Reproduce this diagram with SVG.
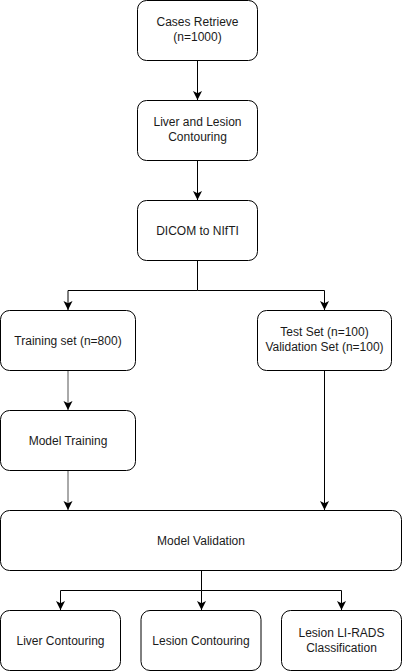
<svg xmlns="http://www.w3.org/2000/svg" width="402" height="671" viewBox="0 0 402 671">
<defs>
<marker id="arr" markerUnits="userSpaceOnUse" markerWidth="10" markerHeight="10" refX="9" refY="4.5" orient="auto">
<path d="M0,0 L9,4.5 L0,9 L2.2,4.5 z" fill="#000"/>
</marker>
<marker id="arrg" markerUnits="userSpaceOnUse" markerWidth="10" markerHeight="10" refX="9" refY="4.5" orient="auto">
<path d="M0,0 L9,4.5 L0,9 L2.2,4.5 z" fill="#000"/>
</marker>
</defs>
<style>
.box{fill:#fff;stroke:#000;stroke-width:1}
.t{font-family:"Liberation Sans",Arial,sans-serif;font-size:12px;fill:#1a1a1a;text-anchor:middle}
.c{fill:none;stroke:#000;stroke-width:1}
.g{fill:none;stroke:#555;stroke-width:1}
</style>
<rect width="402" height="671" fill="#fff"/>
<g id="connectors">
<path class="c" d="M197.5,60.5 V100" marker-end="url(#arr)"/>
<path class="c" d="M197.5,160.5 V200" marker-end="url(#arr)"/>
<path class="c" d="M197.5,260.5 V290.5 H68 V310" marker-end="url(#arr)"/>
<path class="c" d="M197.5,290.5 H324.5 V310" marker-end="url(#arr)"/>
<path class="g" d="M68,370.5 V410" marker-end="url(#arrg)"/>
<path class="g" d="M68,470.5 V510" marker-end="url(#arrg)"/>
<path class="c" d="M324.5,370.5 V510" marker-end="url(#arr)"/>
<path class="c" d="M201.5,570.5 V590.5 H60.5 V610" marker-end="url(#arr)"/>
<path class="c" d="M201.5,590.5 V610" marker-end="url(#arr)"/>
<path class="c" d="M201.5,590.5 H341.5 V610" marker-end="url(#arr)"/>
</g>
<g id="cases">
<rect class="box" x="137.5" y="0.5" width="120" height="60" rx="9"/>
<text class="t" x="197.5" y="26">Cases Retrieve</text>
<text class="t" x="197.5" y="41">(n=1000)</text>
</g>
<g id="contouring">
<rect class="box" x="137.5" y="100.5" width="120" height="60" rx="9"/>
<text class="t" x="197.5" y="126">Liver and Lesion</text>
<text class="t" x="197.5" y="141">Contouring</text>
</g>
<g id="dicom">
<rect class="box" x="137.5" y="200.5" width="120" height="60" rx="9"/>
<text class="t" x="197.5" y="234.5">DICOM to NIfTI</text>
</g>
<g id="training-set">
<rect class="box" x="0.5" y="310.5" width="135" height="60" rx="9"/>
<text class="t" x="68" y="344.5">Training set (n=800)</text>
</g>
<g id="test-set">
<rect class="box" x="257.5" y="310.5" width="134" height="60" rx="9"/>
<text class="t" x="324.5" y="336">Test Set (n=100)</text>
<text class="t" x="324.5" y="351">Validation Set (n=100)</text>
</g>
<g id="model-training">
<rect class="box" x="0.5" y="410.5" width="135" height="60" rx="9"/>
<text class="t" x="68" y="444.5">Model Training</text>
</g>
<g id="model-validation">
<rect class="box" x="0.5" y="510.5" width="401" height="60" rx="9"/>
<text class="t" x="201" y="544.5">Model Validation</text>
</g>
<g id="liver-contouring">
<rect class="box" x="0.5" y="610.5" width="120" height="60" rx="9"/>
<text class="t" x="60.5" y="644.5">Liver Contouring</text>
</g>
<g id="lesion-contouring">
<rect class="box" x="141" y="610.5" width="120" height="60" rx="9"/>
<text class="t" x="201" y="644.5">Lesion Contouring</text>
</g>
<g id="lesion-lirads">
<rect class="box" x="281.5" y="610.5" width="120" height="60" rx="9"/>
<text class="t" x="341.5" y="637">Lesion LI-RADS</text>
<text class="t" x="341.5" y="652">Classification</text>
</g>
</svg>
